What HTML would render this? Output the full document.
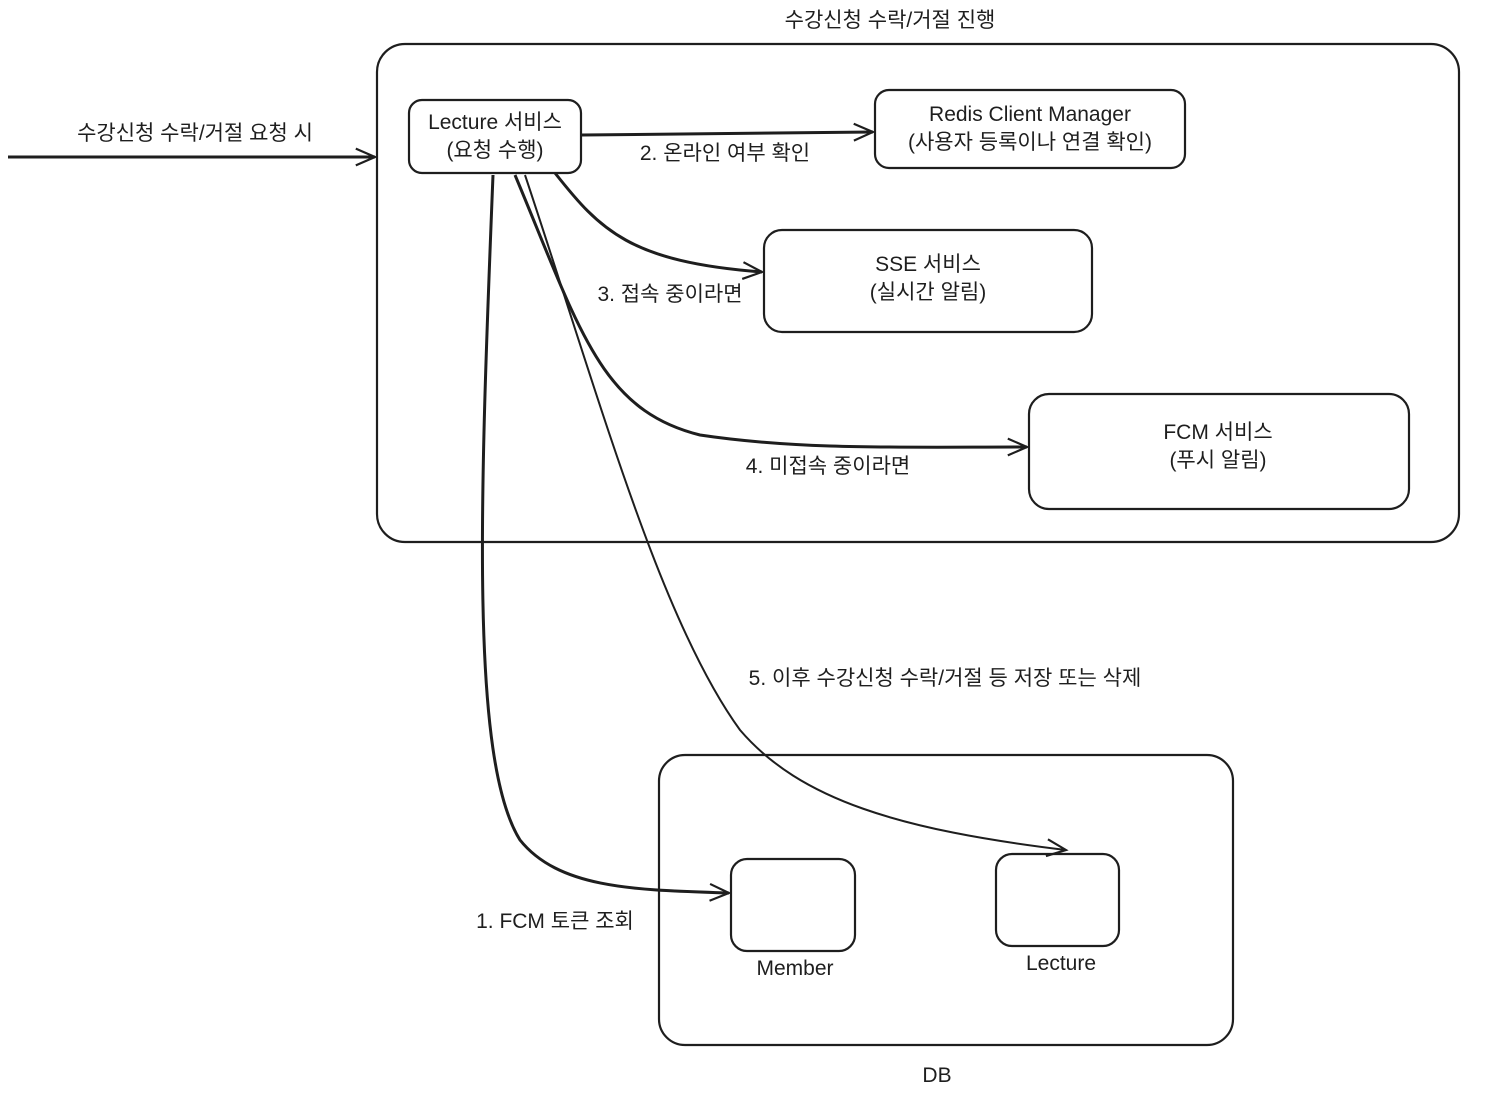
<!DOCTYPE html>
<html><head><meta charset="utf-8"><style>
html,body{margin:0;padding:0;background:#fff;}
svg{display:block;}
text{font-family:"Liberation Sans","Noto Sans CJK KR",sans-serif;font-size:21px;fill:#1e1e1e;text-anchor:middle;}
</style></head><body>
<svg width="1500" height="1099" viewBox="0 0 1500 1099" xmlns="http://www.w3.org/2000/svg">
<defs>
<marker id="a" viewBox="0 0 20 20" refX="18" refY="10" markerWidth="24" markerHeight="24" orient="auto" markerUnits="userSpaceOnUse">
<path d="M2 3 L18 10 L2 17" fill="none" stroke="#1e1e1e" stroke-width="1.8"/>
</marker>
</defs>
<g fill="none" stroke="#1e1e1e" stroke-width="2.2">
<rect x="377" y="44" width="1082" height="498" rx="28"/>
<rect x="409" y="100" width="172" height="73" rx="13"/>
<rect x="875" y="90" width="310" height="78" rx="14"/>
<rect x="764" y="230" width="328" height="102" rx="18"/>
<rect x="1029" y="394" width="380" height="115" rx="20"/>
<rect x="659" y="755" width="574" height="290" rx="26"/>
<rect x="731" y="859" width="124" height="92" rx="16"/>
<rect x="996" y="854" width="123" height="92" rx="16"/>
<path d="M8 157 L375 157" stroke-width="3" marker-end="url(#a)"/>
<path d="M582 135 L873 132" stroke-width="3" marker-end="url(#a)"/>
<path d="M555 173 C600 230 630 262 762 272" stroke-width="3" marker-end="url(#a)"/>
<path d="M515 175 C580 330 600 410 700 435 C800 450 900 447 1027 447" stroke-width="3" marker-end="url(#a)"/>
<path d="M493 175 C480 500 470 760 520 840 C560 890 640 890 729 893" stroke-width="3" marker-end="url(#a)"/>
<path d="M525 175 C600 400 660 620 740 730 C800 800 900 830 1066 850" stroke-width="2" marker-end="url(#a)"/>
</g>
<text x="890" y="27">수강신청 수락/거절 진행</text>
<text x="195" y="140">수강신청 수락/거절 요청 시</text>
<text x="495" y="129">Lecture 서비스</text>
<text x="495" y="157">(요청 수행)</text>
<text x="1030" y="121">Redis Client Manager</text>
<text x="1030" y="149">(사용자 등록이나 연결 확인)</text>
<text x="725" y="160">2. 온라인 여부 확인</text>
<text x="928" y="271">SSE 서비스</text>
<text x="928" y="299">(실시간 알림)</text>
<text x="670" y="301">3. 접속 중이라면</text>
<text x="1218" y="439">FCM 서비스</text>
<text x="1218" y="467">(푸시 알림)</text>
<text x="828" y="473">4. 미접속 중이라면</text>
<text x="945" y="685">5. 이후 수강신청 수락/거절 등 저장 또는 삭제</text>
<text x="555" y="928">1. FCM 토큰 조회</text>
<text x="795" y="975">Member</text>
<text x="1061" y="970">Lecture</text>
<text x="937" y="1082">DB</text>
</svg>
</body></html>
